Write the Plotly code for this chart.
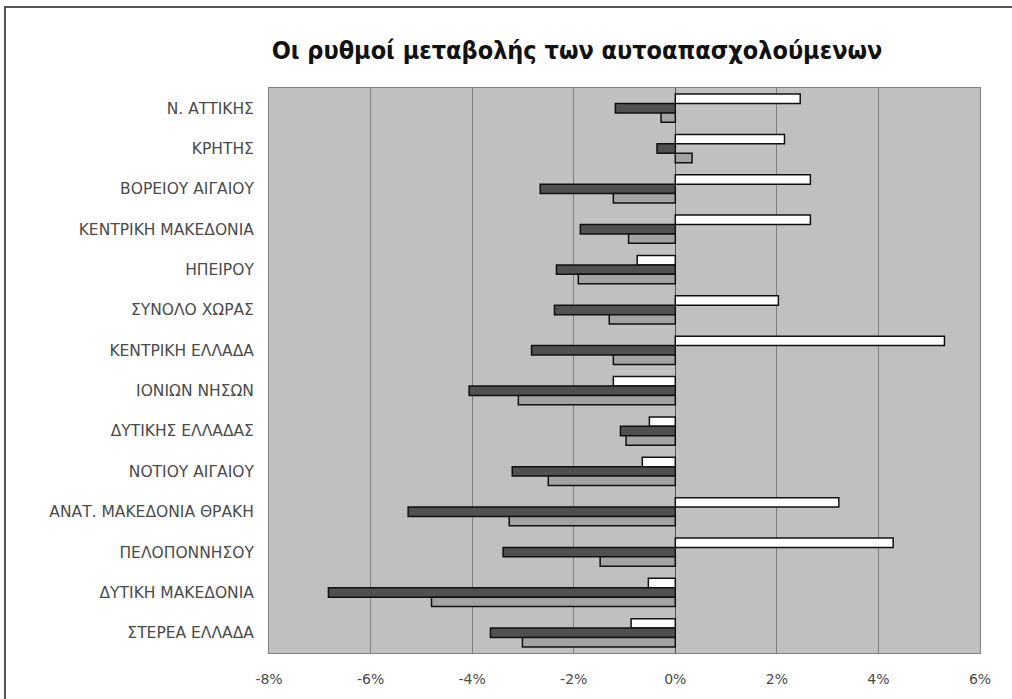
import plotly.graph_objects as go

# regions, top to bottom as in the picture
regions = [
    "Ν. ΑΤΤΙΚΗΣ", "ΚΡΗΤΗΣ", "ΒΟΡΕΙΟΥ ΑΙΓΑΙΟΥ", "ΚΕΝΤΡΙΚΗ ΜΑΚΕΔΟΝΙΑ", "ΗΠΕΙΡΟΥ",
    "ΣΥΝΟΛΟ ΧΩΡΑΣ", "ΚΕΝΤΡΙΚΗ ΕΛΛΑΔΑ", "ΙΟΝΙΩΝ ΝΗΣΩΝ", "ΔΥΤΙΚΗΣ ΕΛΛΑΔΑΣ",
    "ΝΟΤΙΟΥ ΑΙΓΑΙΟΥ", "ΑΝΑΤ. ΜΑΚΕΔΟΝΙΑ ΘΡΑΚΗ", "ΠΕΛΟΠΟΝΝΗΣΟΥ",
    "ΔΥΤΙΚΗ ΜΑΚΕΔΟΝΙΑ", "ΣΤΕΡΕΑ ΕΛΛΑΔΑ",
]
# three series per region (values in %)
series_white = [2.46, 2.15, 2.66, 2.66, -0.75, 2.03, 5.30, -1.22, -0.51, -0.65, 3.22, 4.29, -0.53, -0.87]
series_dark = [-1.18, -0.36, -2.66, -1.87, -2.34, -2.38, -2.83, -4.06, -1.08, -3.21, -5.26, -3.39, -6.83, -3.64]
series_light = [-0.28, 0.33, -1.22, -0.92, -1.91, -1.30, -1.22, -3.09, -0.97, -2.50, -3.27, -1.48, -4.80, -3.01]

x_ticks = [-8, -6, -4, -2, 0, 2, 4, 6]

W, H = 1012, 699
L, T = 269, 88
R, B = W - 980, H - 653

fig = go.Figure()
for vals, col in [(series_white, "#ffffff"), (series_dark, "#505050"), (series_light, "#a3a3a3")]:
    fig.add_trace(go.Bar(
        y=regions, x=[v / 100 for v in vals], orientation="h",
        marker=dict(color=col, line=dict(color="#111111", width=1.5)),
        showlegend=False,
    ))

# outer frame in paper coords (screen pixels -> paper)
pw, ph = W - L - R, H - T - B
def px(x): return (x - L) / pw
def py(y): return (H - B - y) / ph

fig.add_shape(type="rect", xref="paper", yref="paper",
              x0=px(5), x1=px(1030), y0=py(720), y1=py(7),
              line=dict(color="#555555", width=2), layer="below")

fig.update_layout(
    width=W, height=H,
    margin=dict(l=L, r=R, t=T, b=B),
    paper_bgcolor="white", plot_bgcolor="#c0c0c0",
    barmode="group", bargap=0.3, bargroupgap=0,
    title=dict(text="<b>Οι ρυθμοί μεταβολής των αυτοαπασχολούμενων</b>",
               x=577 / W, xanchor="center", y=1 - 50 / H, yanchor="middle",
               font=dict(family="DejaVu Sans Condensed, Liberation Sans Narrow, sans-serif",
                         size=25, color="#111111")),
    xaxis=dict(range=[-0.08, 0.06], tickvals=[t / 100 for t in x_ticks],
               ticktext=[f"{t}%" for t in x_ticks], showgrid=True,
               gridcolor="#808080", gridwidth=1, zeroline=True, zerolinecolor="#555555",
               zerolinewidth=1, showline=True, linecolor="#808080", mirror=True,
               ticks="", ticklabelstandoff=13,
               tickfont=dict(family="DejaVu Sans, Verdana, sans-serif", size=14, color="#4a4a4a")),
    yaxis=dict(autorange="reversed", showgrid=False, showline=True, linecolor="#808080",
               mirror=True, ticks="", ticklabelstandoff=11,
               tickfont=dict(family="DejaVu Sans, Verdana, sans-serif", size=15.5, color="#4a4a4a")),
)

# drop the default page margin so the figure sits at the window's corner
fig.write_html("out.html", config={"displayModeBar": False},
               post_script="document.body.style.margin='0';")
